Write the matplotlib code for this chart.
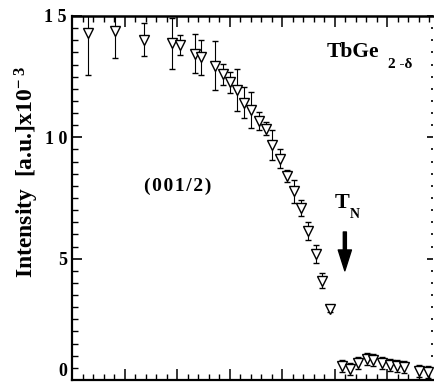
import numpy as np
import matplotlib
matplotlib.use("Agg")
import matplotlib.pyplot as plt
from matplotlib.ticker import MultipleLocator, FixedLocator

plt.rcParams['font.family'] = ['Liberation Serif', 'DejaVu Serif']
plt.rcParams['font.weight'] = 'bold'
plt.rcParams['mathtext.fontset'] = 'custom'
plt.rcParams['mathtext.rm'] = 'Liberation Serif:bold'
plt.rcParams['mathtext.bf'] = 'Liberation Serif:bold'
plt.rcParams['mathtext.it'] = 'Liberation Serif:bold:italic'
plt.rcParams['mathtext.default'] = 'rm'

# temperature (arb. scale), intensity (x10^-3) and error
temp = [2.95, 8.1, 13.6, 19.0, 20.5, 23.3, 24.5, 27.1, 28.7, 30.0,
        31.3, 32.7, 34.0, 35.5, 36.9, 38.0, 39.5, 40.9, 42.2, 43.5,
        44.9, 46.4, 47.5, 49.0,
        51.3, 52.8, 54.4, 56.1, 57.2, 58.9, 60.5, 61.8, 63.1, 66.0, 67.7]
intensity = [14.30, 14.38, 14.03, 13.87, 13.80, 13.45, 13.29, 12.96, 12.59, 12.26,
             11.95, 11.43, 11.12, 10.67, 10.36, 9.68, 9.12, 8.41, 7.77, 7.09,
             6.14, 5.19, 4.10, 2.92,
             0.58, 0.45, 0.70, 0.87, 0.82, 0.70, 0.62, 0.58, 0.54, 0.37, 0.33]
err = [1.73, 1.11, 0.68, 1.05, 0.40, 0.80, 0.72, 1.01, 0.43, 0.43,
       0.87, 0.64, 0.74, 0.37, 0.27, 0.62, 0.39, 0.25, 0.47, 0.33,
       0.37, 0.37, 0.31, 0.12,
       0.25, 0.25, 0.25, 0.25, 0.25, 0.25, 0.25, 0.25, 0.25, 0.25, 0.25]

yticks = [0, 5, 10, 15]
ytick_labels = ["0", "5", "1 0", "1 5"]

fig = plt.figure(figsize=(4.35, 3.85), dpi=100)
ax = fig.add_axes([72.5 / 435, 5 / 385, (433 - 72.5) / 435, (380 - 16) / 385])

ax.errorbar(temp, intensity, yerr=err, fmt='v', ms=6.5, mfc='white', mec='black',
            mew=1.0, ecolor='black', elinewidth=0.8, capsize=2.2, capthick=0.8,
            zorder=3)

ax.set_xlim(0, 68.7)
ax.set_ylim(0, 15)

ax.xaxis.set_major_locator(MultipleLocator(10))
ax.xaxis.set_minor_locator(MultipleLocator(2))
ax.yaxis.set_major_locator(FixedLocator(yticks))
ax.yaxis.set_minor_locator(MultipleLocator(0.5))
ax.set_yticklabels(ytick_labels, fontsize=13, fontweight='bold')
ax.get_yticklabels()[0].set_verticalalignment('bottom')
ax.tick_params(axis='x', which='both', direction='in', top=True, labelbottom=False)
ax.tick_params(axis='x', which='major', length=8, width=1.1)
ax.tick_params(axis='x', which='minor', length=4, width=1.0)
ax.tick_params(axis='y', which='major', direction='in', length=7, width=1.2, pad=4)
ax.tick_params(axis='y', which='minor', direction='in', length=4, width=1.0)

for s in ['left', 'bottom']:
    ax.spines[s].set_linewidth(1.6)
ax.spines['top'].set_linewidth(1.8)
ax.spines['right'].set_visible(False)

# right side ticks (short)
sec = ax.secondary_yaxis('right')
sec.yaxis.set_major_locator(FixedLocator(yticks))
sec.yaxis.set_minor_locator(MultipleLocator(0.5))
sec.tick_params(which='major', direction='in', length=4, width=1.2, labelright=False)
sec.tick_params(which='minor', direction='in', length=1.5, width=1.2)
sec.spines['right'].set_visible(False)

# labels
fig.text(27 / 435, 1 - 172 / 385, r"Intensity  [a.u.]x10$^{-\ 3}$", rotation=90,
         ha='center', va='center', fontsize=17, fontweight='bold')
ax.text(48.5, 13.31, "TbGe", fontsize=15.5, fontweight='bold', va='baseline')
ax.text(60.1, 12.86, "2 -δ", fontsize=11, fontweight='bold', va='baseline')
ax.text(20.1, 8.0, "(\u200a0\u200a0\u200a1\u200a/\u200a2\u200a)", fontsize=14,
        fontweight='bold', ha='center', va='center')
ax.text(50.0, 7.09, "T", fontsize=16, fontweight='bold', va='baseline')
ax.text(52.9, 6.67, "N", fontsize=10, fontweight='bold', va='baseline')
ax.annotate('', xy=(51.9, 4.5), xytext=(51.9, 6.1),
            arrowprops=dict(width=2.2, headwidth=9.5, headlength=15,
                            facecolor='black', edgecolor='black'))

fig.savefig("out.png", dpi=100)
